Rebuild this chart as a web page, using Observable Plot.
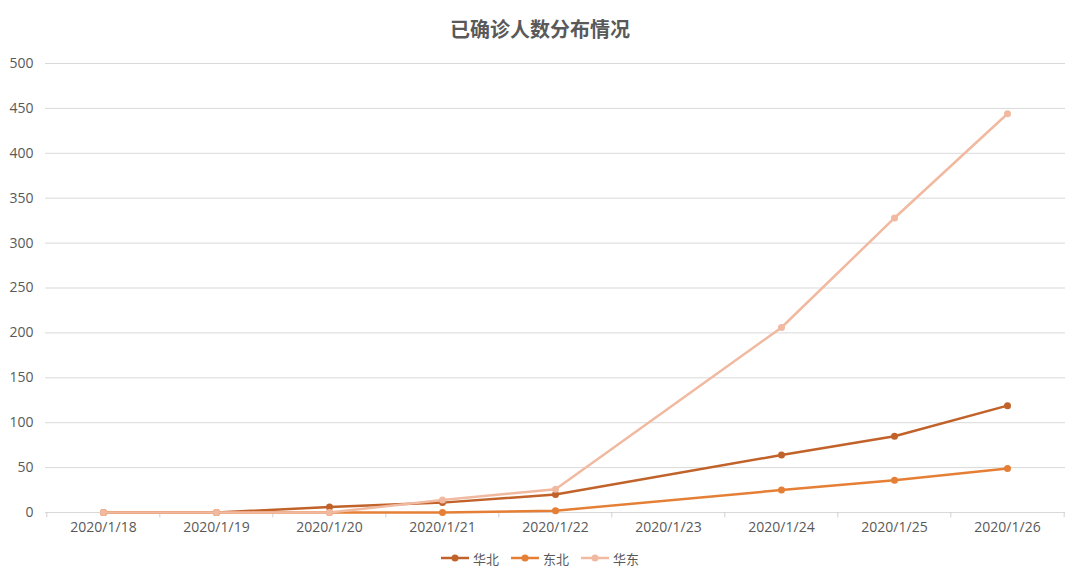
<!DOCTYPE html>
<html>
<head>
<meta charset="utf-8">
<script src="https://cdn.jsdelivr.net/npm/d3@7"></script>
<script src="https://cdn.jsdelivr.net/npm/@observablehq/plot@0.6"></script>
<style>
  html, body { margin: 0; padding: 0; background: #fff; }
  body { width: 1080px; height: 581px; overflow: hidden; font-family: "Noto Sans CJK SC", "Open Sans", sans-serif; }
  #title { height: 50px; line-height: 58px; text-align: center; font-size: 20px; font-weight: bold; color: #595959; }
  #chart svg { display: block; }
  #legend { display: flex; justify-content: center; align-items: center; gap: 12px; height: 30px; margin-top: 3px; font-size: 13px; color: #595959; }
  .item { display: flex; align-items: center; gap: 4px; }
</style>
</head>
<body>
<div id="title">已确诊人数分布情况</div>
<div id="chart"></div>
<div id="legend"></div>
<script>
const dates = ["2020/1/18", "2020/1/19", "2020/1/20", "2020/1/21", "2020/1/22", "2020/1/23", "2020/1/24", "2020/1/25", "2020/1/26"];
const seriesNames = ["华北", "东北", "华东"];
const huabei  = [0, 0, 6, 11, 20, null, 64, 85, 119];
const dongbei = [0, 0, 0, 0, 2, null, 25, 36, 49];
const huadong = [0, 0, 0, 14, 26, null, 206, 328, 444];
const yTicks = [0, 50, 100, 150, 200, 250, 300, 350, 400, 450, 500];
const colors = ["#c0622a", "#e57f35", "#f1b9a0"];

const seriesValues = [huabei, dongbei, huadong];
const rows = [];
seriesNames.forEach((name, s) => {
  dates.forEach((d, i) => {
    const v = seriesValues[s][i];
    if (v != null) rows.push({date: d, value: v, series: name});
  });
});

const W = 1080, ML = 45, MR = 15;
const step = (W - ML - MR) / dates.length;

const chart = Plot.plot({
  width: W,
  height: 490,
  marginTop: 13,
  marginBottom: 28,
  marginLeft: ML,
  marginRight: MR,
  style: {fontFamily: "'Open Sans', 'Noto Sans CJK SC', sans-serif", fontSize: "14px", color: "#595959", background: "#fff"},
  x: {type: "point", domain: dates, padding: 0.5, label: null, tickSize: 0, tickPadding: 10},
  y: {domain: [0, 500], ticks: yTicks, label: null, tickSize: 0, tickPadding: 12},
  color: {domain: seriesNames, range: colors},
  marks: [
    Plot.ruleY(yTicks, {stroke: "#d9d9d9", strokeWidth: 1}),
    Plot.ruleX(dates, {x: d => d, y1: 0, y2: -6, dx: -step / 2, stroke: "#d0d0d0"}),
    Plot.ruleX(dates.slice(-1), {x: d => d, y1: 0, y2: -6, dx: step / 2, stroke: "#d0d0d0"}),
    Plot.line(rows, {x: "date", y: "value", z: "series", stroke: "series", strokeWidth: 2.5}),
    Plot.dot(rows, {x: "date", y: "value", fill: "series", r: 3.5})
  ]
});
document.getElementById("chart").appendChild(chart);

const legend = d3.select("#legend");
seriesNames.forEach((name, i) => {
  const item = legend.append("div").attr("class", "item");
  const svg = item.append("svg").attr("width", 28).attr("height", 10);
  svg.append("line").attr("x1", 0).attr("x2", 28).attr("y1", 5).attr("y2", 5)
    .attr("stroke", colors[i]).attr("stroke-width", 2.5);
  svg.append("circle").attr("cx", 14).attr("cy", 5).attr("r", 3.5).attr("fill", colors[i]);
  item.append("span").text(name);
});
</script>
</body>
</html>
